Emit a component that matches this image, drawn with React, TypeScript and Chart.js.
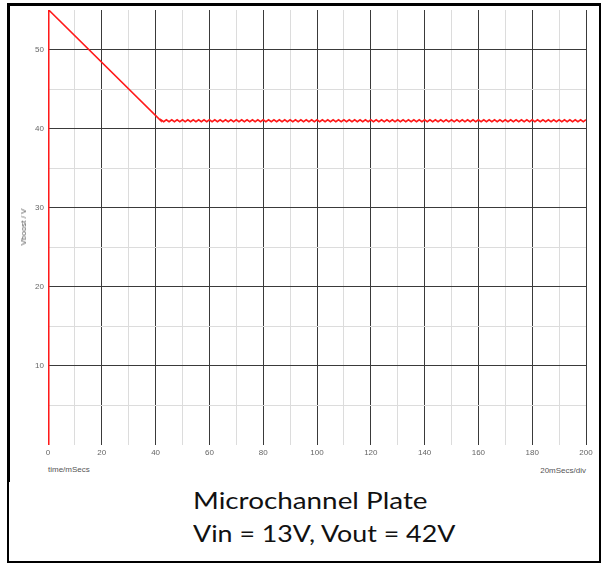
import React, { useEffect, useRef } from "react";
import { Chart, registerables } from "chart.js";

Chart.register(...registerables);

// Start-up: jump at t=0, then linear decay from 55 V to 41 V
const rampTimes = [0, 0.25, 0.3, 42];
const rampVolts = [0, 41, 55, 41];

// Regulated plateau with ripple around 41 V (msec, volts)
const rippleTimes = [
  42, 43, 44, 45, 46, 47, 48, 49, 50, 51, 52, 53, 54, 55, 56, 57, 58, 59, 60, 61,
  62, 63, 64, 65, 66, 67, 68, 69, 70, 71, 72, 73, 74, 75, 76, 77, 78, 79, 80, 81,
  82, 83, 84, 85, 86, 87, 88, 89, 90, 91, 92, 93, 94, 95, 96, 97, 98, 99, 100, 101,
  102, 103, 104, 105, 106, 107, 108, 109, 110, 111, 112, 113, 114, 115, 116, 117, 118, 119, 120, 121,
  122, 123, 124, 125, 126, 127, 128, 129, 130, 131, 132, 133, 134, 135, 136, 137, 138, 139, 140, 141,
  142, 143, 144, 145, 146, 147, 148, 149, 150, 151, 152, 153, 154, 155, 156, 157, 158, 159, 160, 161,
  162, 163, 164, 165, 166, 167, 168, 169, 170, 171, 172, 173, 174, 175, 176, 177, 178, 179, 180, 181,
  182, 183, 184, 185, 186, 187, 188, 189, 190, 191, 192, 193, 194, 195, 196, 197, 198, 199, 200,
];
const rippleVolts = [
  41.12, 40.88, 41.12, 40.88, 41.12, 40.88, 41.12, 40.88, 41.12, 40.88, 41.12, 40.88, 41.12, 40.88, 41.12, 40.88, 41.12, 40.88, 41.12, 40.88,
  41.12, 40.88, 41.12, 40.88, 41.12, 40.88, 41.12, 40.88, 41.12, 40.88, 41.12, 40.88, 41.12, 40.88, 41.12, 40.88, 41.12, 40.88, 41.12, 40.88,
  41.12, 40.88, 41.12, 40.88, 41.12, 40.88, 41.12, 40.88, 41.12, 40.88, 41.12, 40.88, 41.12, 40.88, 41.12, 40.88, 41.12, 40.88, 41.12, 40.88,
  41.12, 40.88, 41.12, 40.88, 41.12, 40.88, 41.12, 40.88, 41.12, 40.88, 41.12, 40.88, 41.12, 40.88, 41.12, 40.88, 41.12, 40.88, 41.12, 40.88,
  41.12, 40.88, 41.12, 40.88, 41.12, 40.88, 41.12, 40.88, 41.12, 40.88, 41.12, 40.88, 41.12, 40.88, 41.12, 40.88, 41.12, 40.88, 41.12, 40.88,
  41.12, 40.88, 41.12, 40.88, 41.12, 40.88, 41.12, 40.88, 41.12, 40.88, 41.12, 40.88, 41.12, 40.88, 41.12, 40.88, 41.12, 40.88, 41.12, 40.88,
  41.12, 40.88, 41.12, 40.88, 41.12, 40.88, 41.12, 40.88, 41.12, 40.88, 41.12, 40.88, 41.12, 40.88, 41.12, 40.88, 41.12, 40.88, 41.12, 40.88,
  41.12, 40.88, 41.12, 40.88, 41.12, 40.88, 41.12, 40.88, 41.12, 40.88, 41.12, 40.88, 41.12, 40.88, 41.12, 40.88, 41.12, 40.88, 41.12,
];

const xMin = 0;
const xMax = 200;
const xStep = 10;
const xLabelEvery = 20;
const yMin = 0;
const yMax = 55;
const yStep = 5;
const yLabelEvery = 10;

const titleLines = ["Microchannel Plate", "Vin = 13V, Vout = 42V"];
const yTitle = "Vboost / V";
const xTitleLeft = "time/mSecs";
const xTitleRight = "20mSecs/div";

const MAJOR = "#3a3a3a";
const MINOR = "#dcdcdc";

export default function App() {
  const canvasRef = useRef<HTMLCanvasElement | null>(null);

  useEffect(() => {
    const canvas = canvasRef.current;
    if (!canvas) return;
    const points = [
      ...rampTimes.map((t, i) => ({ x: t, y: rampVolts[i] })),
      ...rippleTimes.map((t, i) => ({ x: t, y: rippleVolts[i] })),
    ];
    const chart = new Chart(canvas, {
      type: "line",
      data: {
        datasets: [
          {
            data: points,
            borderColor: "#ff1a1a",
            borderWidth: 1.6,
            pointRadius: 0,
            tension: 0,
            fill: false,
          },
        ],
      },
      options: {
        animation: false,
        responsive: false,
        devicePixelRatio: 1,
        layout: { padding: { top: 10, right: 19, left: 0, bottom: 0 } },
        plugins: { legend: { display: false }, tooltip: { enabled: false } },
        scales: {
          x: {
            type: "linear",
            min: xMin,
            max: xMax,
            afterFit: (s: any) => {
              s.height = 17;
            },
            border: { display: false },
            grid: {
              drawTicks: false,
              lineWidth: 1,
              color: (ctx: any) =>
                ctx.tick && ctx.tick.value % xLabelEvery === 0 ? MAJOR : MINOR,
            },
            ticks: {
              stepSize: xStep,
              autoSkip: false,
              maxRotation: 0,
              padding: 3,
              color: "#666",
              font: { family: "Liberation Sans", size: 8 },
              callback: (v: any) => (Number(v) % xLabelEvery === 0 ? String(v) : ""),
            },
          },
          y: {
            min: yMin,
            max: yMax,
            afterFit: (s: any) => {
              s.width = 48;
            },
            border: { display: false },
            grid: {
              drawTicks: false,
              lineWidth: 1,
              color: (ctx: any) => {
                const v = ctx.tick ? ctx.tick.value : 0;
                if (v === yMin || v === yMax) return "rgba(0,0,0,0)";
                return v % yLabelEvery === 0 ? MAJOR : MINOR;
              },
            },
            ticks: {
              stepSize: yStep,
              autoSkip: false,
              padding: 4,
              color: "#666",
              font: { family: "Liberation Sans", size: 8 },
              callback: (v: any) =>
                Number(v) % yLabelEvery === 0 && Number(v) !== 0 ? String(v) : "",
            },
          },
        },
      },
    });
    return () => chart.destroy();
  }, []);

  const small: React.CSSProperties = {
    position: "absolute",
    fontFamily: "Liberation Sans, Arial, sans-serif",
    fontSize: 8,
    color: "#555",
    lineHeight: "10px",
    whiteSpace: "nowrap",
  };
  const big: React.CSSProperties = {
    position: "absolute",
    left: 193,
    fontFamily: "Lato, sans-serif",
    fontSize: 23,
    color: "#111",
    lineHeight: "30px",
    whiteSpace: "nowrap",
    transformOrigin: "0 50%",
  };
  const bar = (l: number, t: number, w: number, h: number): React.CSSProperties => ({
    position: "absolute",
    left: l,
    top: t,
    width: w,
    height: h,
    background: "#000",
  });

  return (
    <div
      style={{
        position: "fixed",
        left: 0,
        top: 0,
        width: 605,
        height: 566,
        background: "#fff",
        overflow: "hidden",
      }}
    >
      <div style={bar(7, 3, 594, 3)} />
      <div style={bar(7, 561, 594, 2)} />
      <div style={bar(7, 3, 2, 560)} />
      <div style={bar(7, 3, 3, 479)} />
      <div style={bar(599, 3, 2, 560)} />
      <canvas
        ref={canvasRef}
        width={605}
        height={462}
        style={{ position: "absolute", left: 0, top: 0, width: 605, height: 462 }}
      />
      <div
        style={{
          ...small,
          left: 24,
          top: 227,
          transform: "translate(-50%, -50%) rotate(-90deg)",
        }}
      >
        {yTitle}
      </div>
      <div style={{ ...small, left: 48, top: 465 }}>{xTitleLeft}</div>
      <div style={{ ...small, right: 605 - 586, top: 466 }}>{xTitleRight}</div>
      <div style={{ ...big, top: 485, transform: "scaleX(1.21)" }}>{titleLines[0]}</div>
      <div style={{ ...big, top: 518, transform: "scaleX(1.165)" }}>{titleLines[1]}</div>
    </div>
  );
}
